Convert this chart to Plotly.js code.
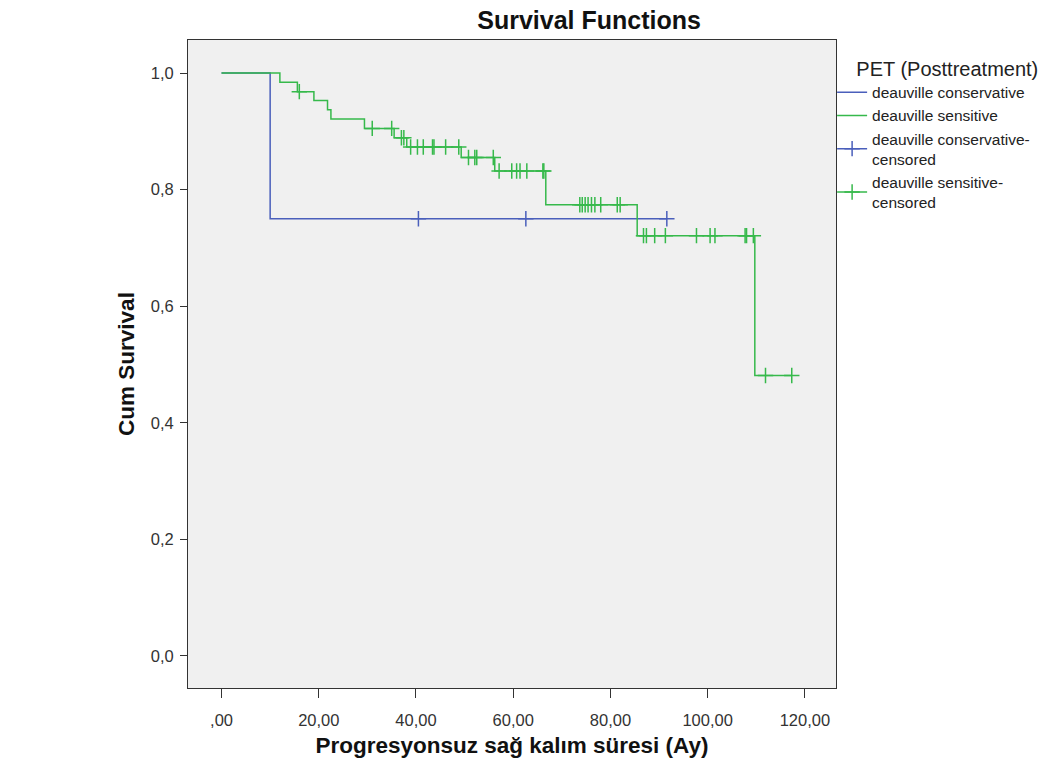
<!DOCTYPE html>
<html>
<head>
<meta charset="utf-8">
<script src="https://cdn.plot.ly/plotly-3.0.1.min.js"></script>
<style>html,body{margin:0;padding:0;background:#fff;}#chart{width:1052px;height:766px;}</style>
</head>
<body>
<div id="chart"></div>
<script>
// Group names
var groupNames = ["deauville conservative", "deauville sensitive"];
var censoredNames = ["deauville conservative-<br>censored", "deauville sensitive-<br>censored"];

// deauville conservative: event step times and survival after each step
var consStepTimes = [0, 10.0];
var consStepSurv  = [1.0, 0.75];
var consCensored  = [40.5, 62.6, 91.6];

// deauville sensitive
var sensStepTimes = [0, 12.0, 15.6, 19.0, 21.8, 22.5, 29.4, 35.5, 38.1, 49.3, 56.2, 66.7, 85.5, 109.7];
var sensStepSurv  = [1.0, 0.984, 0.968, 0.953, 0.937, 0.921, 0.905, 0.889, 0.873, 0.855, 0.832, 0.774, 0.721, 0.481];
var sensCensored  = [16.0, 31.0, 35.0, 37.0, 37.5, 38.9, 40.3, 41.5, 43.4, 43.7, 46.1, 48.8,
                     50.8, 52.1, 52.5, 55.9, 57.1, 59.7, 60.7, 61.4, 62.8, 66.1, 66.3,
                     73.7, 74.2, 74.8, 75.4, 76.1, 76.8, 78.0, 81.4, 82.0,
                     86.8, 87.4, 89.1, 91.3, 97.7, 100.5, 101.5, 107.7, 108.0, 109.4, 111.9, 117.3];

// Axis tick labels
var xTickVals = [0, 20, 40, 60, 80, 100, 120];
var xTickText = [",00", "20,00", "40,00", "60,00", "80,00", "100,00", "120,00"];
var yTickVals = [0, 0.2, 0.4, 0.6, 0.8, 1.0];
var yTickText = ["0,0", "0,2", "0,4", "0,6", "0,8", "1,0"];

var blue = "#4a5fbb";
var green = "#36b94b";

function survAt(times, surv, t) {
  var s = surv[0];
  for (var i = 0; i < times.length; i++) { if (times[i] <= t) s = surv[i]; }
  return s;
}
function stepLine(times, surv, censored) {
  var x = times.slice(), y = surv.slice();
  var end = Math.max.apply(null, censored.concat(times));
  x.push(end); y.push(survAt(times, surv, end));
  return {x: x, y: y};
}
function censorPts(times, surv, censored) {
  var x = [], y = [];
  censored.forEach(function (t) { x.push(t, null); y.push(survAt(times, surv, t), null); });
  return {x: x, y: y};
}

var consLine = stepLine(consStepTimes, consStepSurv, consCensored);
var sensLine = stepLine(sensStepTimes, sensStepSurv, sensCensored);
var consC = censorPts(consStepTimes, consStepSurv, consCensored);
var sensC = censorPts(sensStepTimes, sensStepSurv, sensCensored);

var traces = [
  {x: consLine.x, y: consLine.y, mode: "lines", line: {shape: "hv", color: blue, width: 1.5}, name: groupNames[0]},
  {x: sensLine.x, y: sensLine.y, mode: "lines", line: {shape: "hv", color: green, width: 1.5}, name: groupNames[1]},
  {x: consC.x, y: consC.y, mode: "lines+markers", connectgaps: false, line: {color: blue, width: 1.5},
   marker: {symbol: "cross-thin", size: 11, line: {color: blue, width: 1.5}}, name: censoredNames[0]},
  {x: sensC.x, y: sensC.y, mode: "lines+markers", connectgaps: false, line: {color: green, width: 1.5},
   marker: {symbol: "cross-thin", size: 11, line: {color: green, width: 1.5}}, name: censoredNames[1]}
];

var font = "Liberation Sans, Arial, sans-serif";
var layout = {
  width: 1052, height: 766,
  margin: {l: 188, r: 216, t: 40, b: 78, autoexpand: false},
  paper_bgcolor: "#ffffff",
  plot_bgcolor: "#f0f0f0",
  font: {family: font, size: 16, color: "#222"},
  title: {text: "<b>Survival Functions</b>", font: {family: font, size: 25, color: "#111"},
          x: 0.619, xref: "paper", xanchor: "center", y: 0.974, yref: "container", yanchor: "middle"},
  xaxis: {
    range: [-6.9, 126.4], tickvals: xTickVals, ticktext: xTickText,
    showgrid: false, zeroline: false, ticks: "outside", ticklen: 9, tickcolor: "#333", tickwidth: 1,
    showline: true, linecolor: "#333", linewidth: 1, mirror: true, ticklabelstandoff: 8,
    tickfont: {family: font, size: 16.5, color: "#333"},
    title: {text: "<b>Progresyonsuz sağ kalım süresi (Ay)</b>", font: {family: font, size: 22.5, color: "#111"}, standoff: 9}
  },
  yaxis: {
    range: [-0.0549, 1.0566], tickvals: yTickVals, ticktext: yTickText,
    showgrid: false, zeroline: false, ticks: "outside", ticklen: 7, tickcolor: "#333", tickwidth: 1,
    showline: true, linecolor: "#333", linewidth: 1, mirror: true, ticklabelstandoff: 3,
    tickfont: {family: font, size: 16.5, color: "#333"},
    title: {text: "<b>Cum Survival</b>", font: {family: font, size: 22.5, color: "#111"}, standoff: 9}
  },
  legend: {
    x: 0.994, xanchor: "left", y: 0.985, yanchor: "top", itemwidth: 30,
    bgcolor: "rgba(0,0,0,0)", tracegroupgap: 0,
    font: {family: font, size: 15.5, color: "#222"},
    title: {text: "\u00a0\u00a0\u00a0\u00a0PET (Posttreatment)", font: {family: font, size: 20, color: "#222"}}
  },
  showlegend: true
};

Plotly.newPlot("chart", traces, layout, {displayModeBar: false, staticPlot: true});
</script>
</body>
</html>
